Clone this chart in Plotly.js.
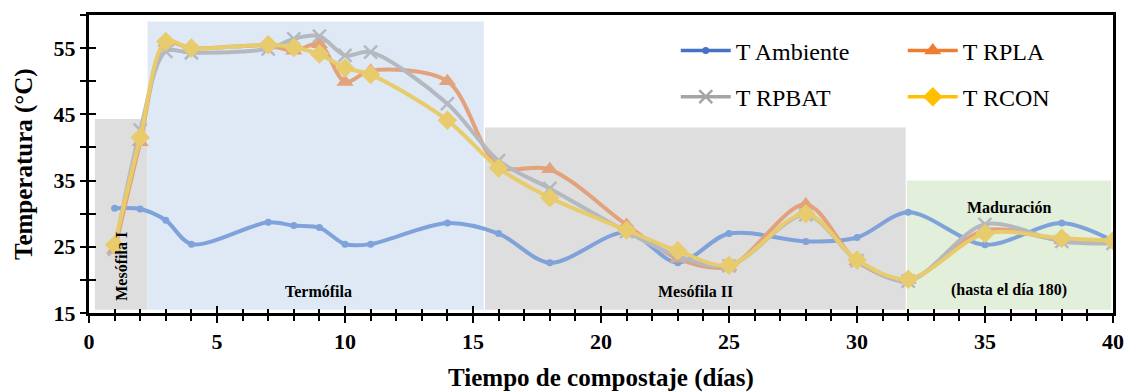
<!DOCTYPE html>
<html>
<head>
<meta charset="utf-8">
<script src="https://cdn.plot.ly/plotly-3.0.1.min.js"></script>
<style>
html,body{margin:0;padding:0;background:#fff;}
#chart{width:1127px;height:392px;}
</style>
</head>
<body>
<div id="chart"></div>
<script>
// ---- Data ----
const days = [1, 2, 3, 4, 7, 8, 9, 10, 11, 14, 16, 18, 21, 23, 25, 28, 30, 32, 35, 38, 40];
const tAmbiente = [30.8, 30.7, 29.0, 25.4, 28.7, 28.2, 27.9, 25.4, 25.4, 28.6, 27.0, 22.6, 27.2, 22.6, 27.0, 25.8, 26.4, 30.2, 25.3, 28.6, 25.9];
const tRPLA     = [24.5, 40.8, 55.8, 55.0, 55.4, 54.6, 55.6, 49.9, 51.6, 50.0, 37.2, 36.7, 28.3, 23.2, 22.0, 31.4, 22.8, 20.0, 27.5, 26.0, 26.0];
const tRPBAT    = [24.6, 42.6, 54.5, 54.3, 54.9, 56.4, 56.8, 53.9, 54.4, 46.6, 38.0, 33.8, 27.3, 23.6, 22.1, 29.8, 22.9, 19.8, 28.4, 25.8, 25.5];
const tRCON     = [25.3, 41.5, 56.0, 55.0, 55.5, 55.1, 54.1, 52.0, 51.0, 44.1, 36.9, 32.4, 27.5, 24.4, 22.2, 30.0, 23.0, 20.1, 27.0, 26.3, 25.9];

const seriesNames = ['T Ambiente', 'T RPLA', 'T RPBAT', 'T RCON'];
const xTitle = 'Tiempo de compostaje (días)';
const yTitle = 'Temperatura (°C)';

// Composting phases (x in days, y in °C)
const phaseNames  = ['Mesófila I', 'Termófila', 'Mesófila II', 'Maduración'];
const phaseStart  = [0.23, 2.29, 15.47, 31.95];
const phaseEnd    = [2.29, 15.42, 31.9, 39.93];
const phaseTop    = [44.3, 59.0, 43.0, 35.0];
const phaseBottom = [15.5, 15.5, 15.5, 15.5];

// Phase labels
const labelText = ['Mesófila I', 'Termófila', 'Mesófila II', 'Maduración', '(hasta el día 180)'];
const labelX    = [1.28, 8.95, 23.7, 35.94, 35.94];
const labelY    = [22.1, 18.3, 18.2, 30.9, 18.4];
const labelAngle = [-90, 0, 0, 0, 0];

// ---- Styles ----
const FONT = 'Liberation Serif, "Times New Roman", Times, serif';
const phaseColors = ['#DEDEDE', '#DEE9F5', '#DEDEDE', '#E2EFDA'];
const plotLineColors = ['#7FA2DA', '#E2A27C', '#B4B9BF', '#E7CB6C'];
const legendColors = ['#4472C4', '#ED7D31', '#A5A5A5', '#FFC000'];
const seriesY = [tAmbiente, tRPLA, tRPBAT, tRCON];
const markerSpec = [
  {symbol: 'circle', size: 7},
  {symbol: 'triangle-up', size: 15},
  {symbol: 'x-thin', size: 13},
  {symbol: 'diamond', size: 15}
];

const traces = [];
seriesY.forEach((ys, i) => {
  const c = plotLineColors[i];
  const m = {symbol: markerSpec[i].symbol, size: markerSpec[i].size, color: c};
  if (markerSpec[i].symbol === 'x-thin') m.line = {color: c, width: 2.5};
  traces.push({
    type: 'scatter', mode: 'lines+markers',
    x: days, y: ys, name: seriesNames[i], showlegend: false,
    line: {color: c, width: 4, shape: 'spline', smoothing: 0.9},
    marker: m
  });
});
// Legend-only entries (full colours, as in the reference legend)
seriesNames.forEach((nm, i) => {
  const c = legendColors[i];
  const m = {symbol: markerSpec[i].symbol, size: markerSpec[i].size, color: c};
  if (markerSpec[i].symbol === 'x-thin') m.line = {color: c, width: 2.5};
  traces.push({
    type: 'scatter', mode: 'lines+markers',
    x: [null], y: [null], name: nm, xaxis: 'x2', yaxis: 'y2',
    legend: i < 2 ? 'legend' : 'legend2',
    line: {color: c, width: 3.5},
    marker: m
  });
});

const shapes = phaseNames.map((p, i) => ({
  type: 'rect', xref: 'x', yref: 'y', layer: 'below',
  x0: phaseStart[i], x1: phaseEnd[i], y0: phaseBottom[i], y1: phaseTop[i],
  fillcolor: phaseColors[i], line: {width: 0}
}));

const annotations = labelText.map((t, i) => ({
  xref: 'x', yref: 'y', x: labelX[i], y: labelY[i], text: t,
  showarrow: false, textangle: labelAngle[i],
  font: {family: FONT, size: 16, color: '#000', weight: 'bold'}
}));

const tickFont = {family: FONT, size: 22, color: '#000', weight: 'bold'};
const titleFont = {family: FONT, size: 25, color: '#000', weight: 'bold'};

// y-axis title as a rotated annotation so it sits where the reference has it
annotations.push({
  xref: 'paper', yref: 'paper', x: 0, y: 0.5, xanchor: 'center', yanchor: 'middle',
  xshift: -65, text: yTitle, textangle: -90, showarrow: false, font: titleFont
});

const legendCommon = {
  orientation: 'h', xanchor: 'left', yanchor: 'top',
  font: {family: FONT, size: 24, color: '#000', weight: 'normal'},
  bgcolor: 'rgba(0,0,0,0)', entrywidth: 162, entrywidthmode: 'pixels',
  itemwidth: 50, traceorder: 'normal'
};

const layout = {
  width: 1127, height: 392,
  font: {family: FONT, color: '#000'},
  margin: {l: 89, r: 14, t: 15, b: 79, autoexpand: false},
  paper_bgcolor: '#fff', plot_bgcolor: '#fff',
  showlegend: true,
  xaxis: {
    range: [0, 40], tick0: 0, dtick: 5, ticks: 'outside', ticklen: 7, tickwidth: 2, tickcolor: '#000',
    minor: {ticks: 'outside', dtick: 1, ticklen: 5, tickwidth: 2, tickcolor: '#000'},
    showline: true, linewidth: 3, linecolor: '#000', mirror: true,
    showgrid: false, zeroline: false, tickfont: tickFont,
    title: {text: xTitle, font: titleFont, standoff: 17}
  },
  yaxis: {
    range: [15, 60], tick0: 15, dtick: 10, ticks: 'outside', ticklen: 6, tickwidth: 2, tickcolor: '#000',
    minor: {ticks: 'outside', dtick: 5, tick0: 15, ticklen: 6, tickwidth: 2, tickcolor: '#000'},
    showline: true, linewidth: 3, linecolor: '#000', mirror: true,
    showgrid: false, zeroline: false, tickfont: tickFont
  },
  xaxis2: {
    overlaying: 'x', anchor: 'y', side: 'bottom', range: [0, 40], tick0: 0, dtick: 5,
    ticks: 'inside', ticklen: 7, tickwidth: 2, tickcolor: '#000',
    minor: {ticks: 'inside', dtick: 1, ticklen: 4, tickwidth: 2, tickcolor: '#000'},
    showticklabels: false, showgrid: false, zeroline: false, showline: false
  },
  yaxis2: {
    overlaying: 'y', anchor: 'x', side: 'left', range: [15, 60], tick0: 15, dtick: 10,
    ticks: 'inside', ticklen: 7, tickwidth: 2, tickcolor: '#000',
    minor: {ticks: 'inside', dtick: 5, tick0: 15, ticklen: 7, tickwidth: 2, tickcolor: '#000'},
    showticklabels: false, showgrid: false, zeroline: false, showline: false
  },
  legend: Object.assign({}, legendCommon, {x: 0.573, y: 0.955}),
  legend2: Object.assign({}, legendCommon, {x: 0.573, y: 0.80}),
  shapes: shapes,
  annotations: annotations
};

Plotly.newPlot('chart', traces, layout, {displayModeBar: false, staticPlot: true});
</script>
</body>
</html>
